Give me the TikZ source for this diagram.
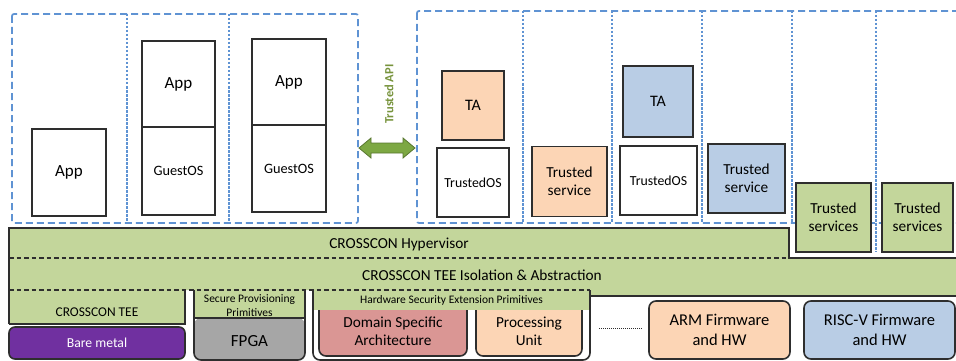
\documentclass[tikz,border=0pt]{standalone}
\usepackage{fontspec}
\setmainfont{Carlito}
\usetikzlibrary{positioning}

\definecolor{teegreen}{HTML}{C3D69B}
\definecolor{peach}{HTML}{FCD5B5}
\definecolor{tablue}{HTML}{B9CDE5}
\definecolor{dsared}{HTML}{DA9694}
\definecolor{baremetal}{HTML}{7030A0}
\definecolor{fpgagray}{HTML}{A6A6A6}
\definecolor{worldblue}{HTML}{5F93D3}
\definecolor{apigreen}{HTML}{7DA843}
\definecolor{apitext}{HTML}{77933C}
\definecolor{edge}{HTML}{2E2E2E}

\tikzset{
  worldbox/.style={draw=worldblue, line width=1.7pt, dash pattern=on 7pt off 4pt, rounded corners=2pt},
  worldsplit/.style={draw=worldblue, line width=1.3pt, dash pattern=on 2.5pt off 1.5pt},
  sbox/.style={draw=edge, line width=1.6pt, inner sep=1pt, align=center},
  hwbox/.style={draw=edge, line width=1.6pt, rounded corners=7pt, align=center},
  sepline/.style={draw=edge, line width=1.3pt, dash pattern=on 4.5pt off 3pt},
  solidline/.style={draw=edge, line width=1.6pt},
  bigtxt/.style={font=\fontsize{17}{20}\selectfont},
  midtxt/.style={font=\fontsize{15.3}{18}\selectfont},
  ostxt/.style={font=\fontsize{14.3}{17}\selectfont},
  smalltxt/.style={font=\fontsize{11.5}{14}\selectfont, align=center},
}

\begin{document}
\begin{tikzpicture}[x=1pt,y=-1pt]
	\useasboundingbox (0,0) rectangle (956,361);
	\clip (0,0) rectangle (956,361);

	% normal world and secure world domains
	\draw[worldbox] (12,14) rectangle (358,223);
	\foreach \a in {127,229}
	\draw[worldsplit] (\a,14) -- (\a,223);
	\draw[worldbox] (417,11) rectangle (990,223);
	\foreach \a in {523,612,702,792}
	\draw[worldsplit] (\a,11) -- (\a,223);
	\draw[worldsplit] (876,11) -- (876,252);

	% VMs
	\node[sbox, bigtxt, minimum width=74, minimum height=87] (app1) at (69,172.5) {App};
	\node[sbox, bigtxt, minimum width=73, minimum height=86] (app2) at (178.5,84) {App};
	\node[sbox, ostxt, minimum width=73, minimum height=88] (guest2) at (178.5,171) {GuestOS};
	\node[sbox, bigtxt, minimum width=74, minimum height=86] (app3) at (289,82) {App};
	\node[sbox, ostxt, minimum width=74, minimum height=87] (guest3) at (289,168.5) {GuestOS};

	% trusted API
	\coordinate (apiL) at (359,148);
	\coordinate (apiR) at (415,148);
	\filldraw[fill=apigreen, draw=apigreen!70!black, line width=0.8pt]
		(apiL) -- ++(12,-10) -- ++(0,5) -- ++(32,0) -- ++(0,-5) -- (apiR)
		-- ++(-12,10) -- ++(0,-5) -- ++(-32,0) -- ++(0,5) -- cycle;
	\node[rotate=90, text=apitext, font=\bfseries\fontsize{12.5}{14}\selectfont] (apilbl) at (389,94) {Trusted API};

	% secure world
	\node[sbox, fill=peach, font=\fontsize{16}{19}\selectfont, minimum width=62, minimum height=69] (ta1) at (473,105.5) {TA};
	\node[sbox, font=\fontsize{13.8}{16}\selectfont, minimum width=72, minimum height=69] (tos1) at (473,182.5) {TrustedOS};
	\node[sbox, midtxt, fill=peach, minimum width=75, minimum height=70] (ts1) at (569.5,181.5) {Trusted\\service};
	\node[sbox, fill=tablue, font=\fontsize{16}{19}\selectfont, minimum width=70, minimum height=71] (ta2) at (658,101.5) {TA};
	\node[sbox, font=\fontsize{13.8}{16}\selectfont, minimum width=77, minimum height=69] (tos2) at (658.5,180.5) {TrustedOS};
	\node[sbox, midtxt, fill=tablue, minimum width=77, minimum height=69] (ts2) at (746.5,178.5) {Trusted\\service};
	\node[sbox, midtxt, fill=teegreen, minimum width=75, minimum height=69] (tss1) at (833.5,217.5) {Trusted\\services};
	\node[sbox, midtxt, fill=teegreen, minimum width=71, minimum height=69] (tss2) at (917.5,217.5) {Trusted\\services};

	% hypervisor and TEE layers
	\fill[teegreen] (9,228) -- (789,228) -- (789,258) -- (970,258) -- (970,296)
		-- (590,296) -- (590,290) -- (9,290) -- cycle;
	\fill[teegreen] (9,290) rectangle (185,324);
	\draw[solidline] (185,290) -- (185,324) -- (9,324);

	% FPGA
	\fill[fpgagray, rounded corners=7pt] (194,318) -- (194,360) -- (305,360) -- (305,318) -- cycle;
	\fill[teegreen] (194,290) rectangle (305,318);
	\draw[solidline] (194,318) -- (305,318);
	\draw[solidline, rounded corners=7pt] (194,290) -- (194,360) -- (305,360) -- (305,290);

	% hardware security extensions
	\fill[white, rounded corners=7pt] (313,290) -- (313,360) -- (590,360) -- (590,290) -- cycle;
	\node[hwbox, fill=dsared, minimum width=148, minimum height=60] (dsa) at (393,326) {};
	\node[hwbox, fill=peach, minimum width=106, minimum height=60] (pu) at (529,326) {};
	\fill[teegreen] (313,290) rectangle (590,310);
	\draw[solidline, rounded corners=7pt] (313,290) -- (313,360) -- (590,360) -- (590,290);
	\node[midtxt, align=center] (dsalbl) at (393,331.5) {Domain Specific\\Architecture};
	\node[midtxt, align=center] (pulbl) at (529,331.5) {Processing\\Unit};

	% outline of the layers
	\draw[sepline] (9,258) -- (789,258);
	\draw[sepline] (9,290) -- (590,290);
	\draw[solidline] (9,324) -- (9,228) -- (789,228) -- (789,258) -- (970,258);
	\draw[solidline] (970,296) -- (590,296);

	\node[midtxt] (hyp) at (399,244) {CROSSCON Hypervisor};
	\node[midtxt] (iso) at (482,275) {CROSSCON TEE Isolation \& Abstraction};
	\node[font=\fontsize{13.4}{16}\selectfont] (tee) at (97,312) {CROSSCON TEE};
	\node[smalltxt] (spp) at (249.5,306) {Secure Provisioning\\Primitives};
	\node[smalltxt] (hse) at (451.5,300.5) {Hardware Security Extension Primitives};

	% platforms
	\node[hwbox, fill=baremetal, text=white, font=\fontsize{13.7}{16}\selectfont, minimum width=176, minimum height=32, rounded corners=6pt] (bare) at (97,343) {Bare metal};
	\node[bigtxt] (fpga) at (249.5,341) {FPGA};
	\node[hwbox, fill=peach, font=\fontsize{16.5}{20}\selectfont, minimum width=141, minimum height=58] (arm) at (719.5,330) {ARM Firmware\\and HW};
	\node[hwbox, fill=tablue, font=\fontsize{16.5}{20}\selectfont, minimum width=151, minimum height=58] (riscv) at (879.5,330) {RISC-V Firmware\\and HW};

	\coordinate (dotL) at (599,328);
	\coordinate (dotR) at (642,328);
	\draw[edge, line width=0.8pt, dash pattern=on 1pt off 1pt] (dotL) -- (dotR);
\end{tikzpicture}
\end{document}
